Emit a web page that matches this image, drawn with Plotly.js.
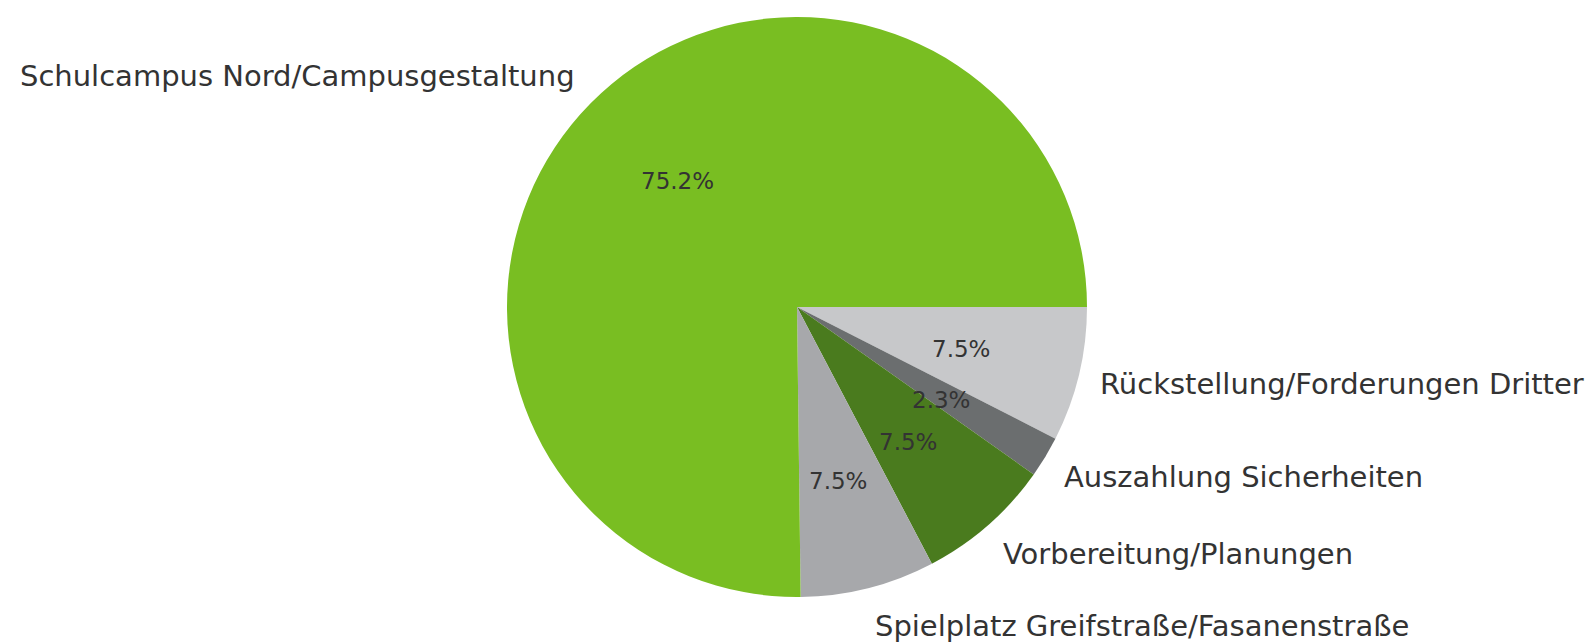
<!DOCTYPE html>
<html>
<head>
<meta charset="utf-8">
<script src="https://cdn.plot.ly/plotly-3.0.1.min.js"></script>
<style>
html,body{margin:0;padding:0;background:#fff;}
#chart{width:1590px;height:643px;}
</style>
</head>
<body>
<div id="chart"></div>
<script>
// Data (matplotlib order: counterclockwise starting at 3 o'clock)
const categories = [
  "Schulcampus Nord/Campusgestaltung",
  "Spielplatz Greifstraße/Fasanenstraße",
  "Vorbereitung/Planungen",
  "Auszahlung Sicherheiten",
  "Rückstellung/Forderungen Dritter"
];
const shares = [75.2, 7.5, 7.5, 2.3, 7.5];
const sliceColors = ["#79be22", "#a7a8ab", "#4a7b1e", "#6b6e6f", "#c7c8ca"];

// Layout geometry (pixels)
const W = 1590, H = 643;
const cx = 797, cy = 307, R = 290;
const rxText = 281, ryText = 299;
const textColor = "#333333";

// Plotly draws clockwise from the rotation; reverse order so the result
// reads counterclockwise from 3 o'clock like the reference.
const revLabels = categories.slice().reverse();
const revValues = shares.slice().reverse();
const revColors = sliceColors.slice().reverse();

const trace = {
  type: "pie",
  labels: revLabels,
  values: revValues,
  marker: {colors: revColors, line: {width: 0}},
  sort: false,
  direction: "clockwise",
  rotation: 90,
  textinfo: "none",
  hoverinfo: "label+percent",
  showlegend: false,
  domain: {
    x: [(cx - R) / W, (cx + R) / W],
    y: [1 - (cy + R) / H, 1 - (cy - R) / H]
  }
};

// Text annotations computed from the data angles
const total = shares.reduce((a, b) => a + b, 0);
const annotations = [];
let cum = 0;
for (let i = 0; i < shares.length; i++) {
  const mid = (cum + shares[i] / 2) / total * 2 * Math.PI;
  cum += shares[i];
  const c = Math.cos(mid), s = Math.sin(mid);
  // category label at 1.1 radius
  const lx = cx + 1.1 * rxText * c;
  const ly = cy - 1.1 * ryText * s;
  annotations.push({
    xref: "paper", yref: "paper",
    x: lx / W, y: 1 - ly / H,
    xanchor: c < 0 ? "right" : "left",
    yanchor: "middle",
    text: categories[i],
    showarrow: false,
    font: {family: "DejaVu Sans", size: 29, color: textColor}
  });
  // percentage at 0.6 radius
  const px = cx + 0.6 * rxText * c;
  const py = cy - 0.6 * ryText * s;
  annotations.push({
    xref: "paper", yref: "paper",
    x: px / W, y: 1 - py / H,
    xanchor: "center", yanchor: "middle",
    text: (shares[i] / total * 100).toFixed(1) + "%",
    showarrow: false,
    font: {family: "DejaVu Sans", size: 23, color: textColor}
  });
}

const layout = {
  width: W, height: H,
  margin: {l: 0, r: 0, t: 0, b: 0},
  paper_bgcolor: "#ffffff",
  plot_bgcolor: "#ffffff",
  showlegend: false,
  annotations: annotations
};

Plotly.newPlot("chart", [trace], layout, {displayModeBar: false, staticPlot: true});
</script>
</body>
</html>
